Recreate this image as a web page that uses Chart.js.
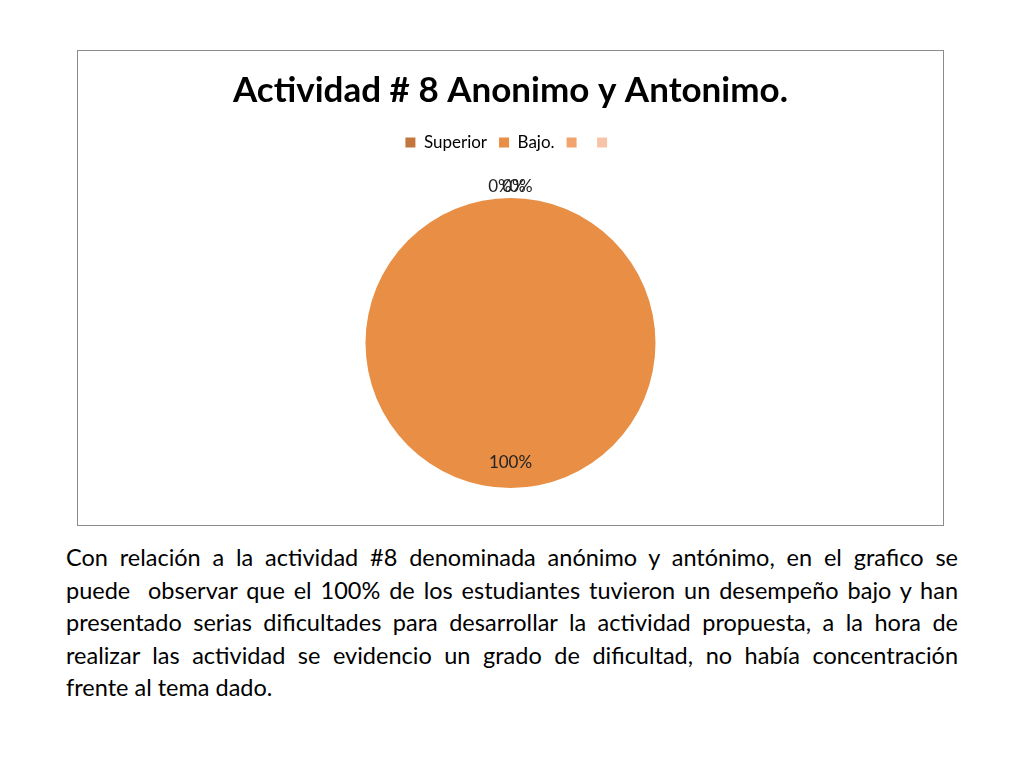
<!DOCTYPE html>
<html>
<head>
<meta charset="utf-8">
<script src="https://cdn.jsdelivr.net/npm/chart.js@4"></script>
<style>
  body { margin: 0; background: #fff; width: 1024px; height: 768px; position: relative; overflow: hidden; }
  #box { position: absolute; left: 77px; top: 50px; width: 865px; height: 474px; border: 1.5px solid #8c8c8c; }
  #text { position: absolute; left: 66px; top: 541px; width: 892px; font-family: Lato, sans-serif; font-size: 23.5px; line-height: 32.5px; color: #000; }
  #text div { text-align: justify; text-align-last: justify; white-space: pre-wrap; }
  #text div.last { text-align-last: left; }
</style>
</head>
<body>
<div id="box"><canvas id="pie" width="865" height="474"></canvas></div>
<div id="text">
  <div>Con relación a la actividad #8 denominada anónimo y antónimo, en el grafico se</div>
  <div>puede  observar que el 100% de los estudiantes tuvieron un desempeño bajo y han</div>
  <div>presentado serias dificultades para desarrollar la actividad propuesta, a la hora de</div>
  <div>realizar las actividad se evidencio un grado de dificultad, no había concentración</div>
  <div class="last">frente al tema dado.</div>
</div>
<script>
// Chart data
const categories = ['Superior', 'Bajo.', '', ''];
const percentages = [0, 100, 0, 0];
const sliceColors = ['#c4773c', '#e88f45', '#f2a46f', '#f7c4a8'];

// Draw "n%" labels at each slice's mid angle (outside for empty slices)
const pctLabels = {
  id: 'pctLabels',
  afterDatasetsDraw(chart) {
    const ctx = chart.ctx;
    const meta = chart.getDatasetMeta(0);
    ctx.save();
    ctx.font = '17px Lato, sans-serif';
    ctx.fillStyle = '#222';
    ctx.textAlign = 'center';
    ctx.textBaseline = 'middle';
    meta.data.forEach((arc, i) => {
      const p = arc.getProps(['x', 'y', 'startAngle', 'endAngle', 'outerRadius']);
      const mid = (p.startAngle + p.endAngle) / 2;
      const r = percentages[i] > 0 ? p.outerRadius - 25 : p.outerRadius + 11;
      const shift = percentages[i] > 0 ? 0 : (i - 1.5) * 7;
      ctx.fillText(percentages[i] + '%', p.x + Math.cos(mid) * r + shift, p.y + Math.sin(mid) * r);
    });
    ctx.restore();
  }
};

new Chart(document.getElementById('pie'), {
  type: 'pie',
  data: {
    labels: categories,
    datasets: [{
      data: percentages,
      backgroundColor: sliceColors,
      borderWidth: 0,
      radius: 145
    }]
  },
  options: {
    responsive: false,
    animation: false,
    layout: { padding: { top: 0, bottom: 0 } },
    plugins: {
      title: {
        display: true,
        text: 'Actividad # 8 Anonimo y Antonimo.',
        color: '#000',
        font: { family: 'Lato, sans-serif', size: 35, weight: 'bold' },
        padding: { top: 19, bottom: 10 }
      },
      legend: {
        position: 'top',
        labels: {
          boxWidth: 10,
          boxHeight: 10,
          padding: 12,
          color: '#000',
          font: { family: 'Lato, sans-serif', size: 17 }
        }
      },
      tooltip: { enabled: false }
    }
  },
  plugins: [pctLabels]
});
</script>
</body>
</html>
